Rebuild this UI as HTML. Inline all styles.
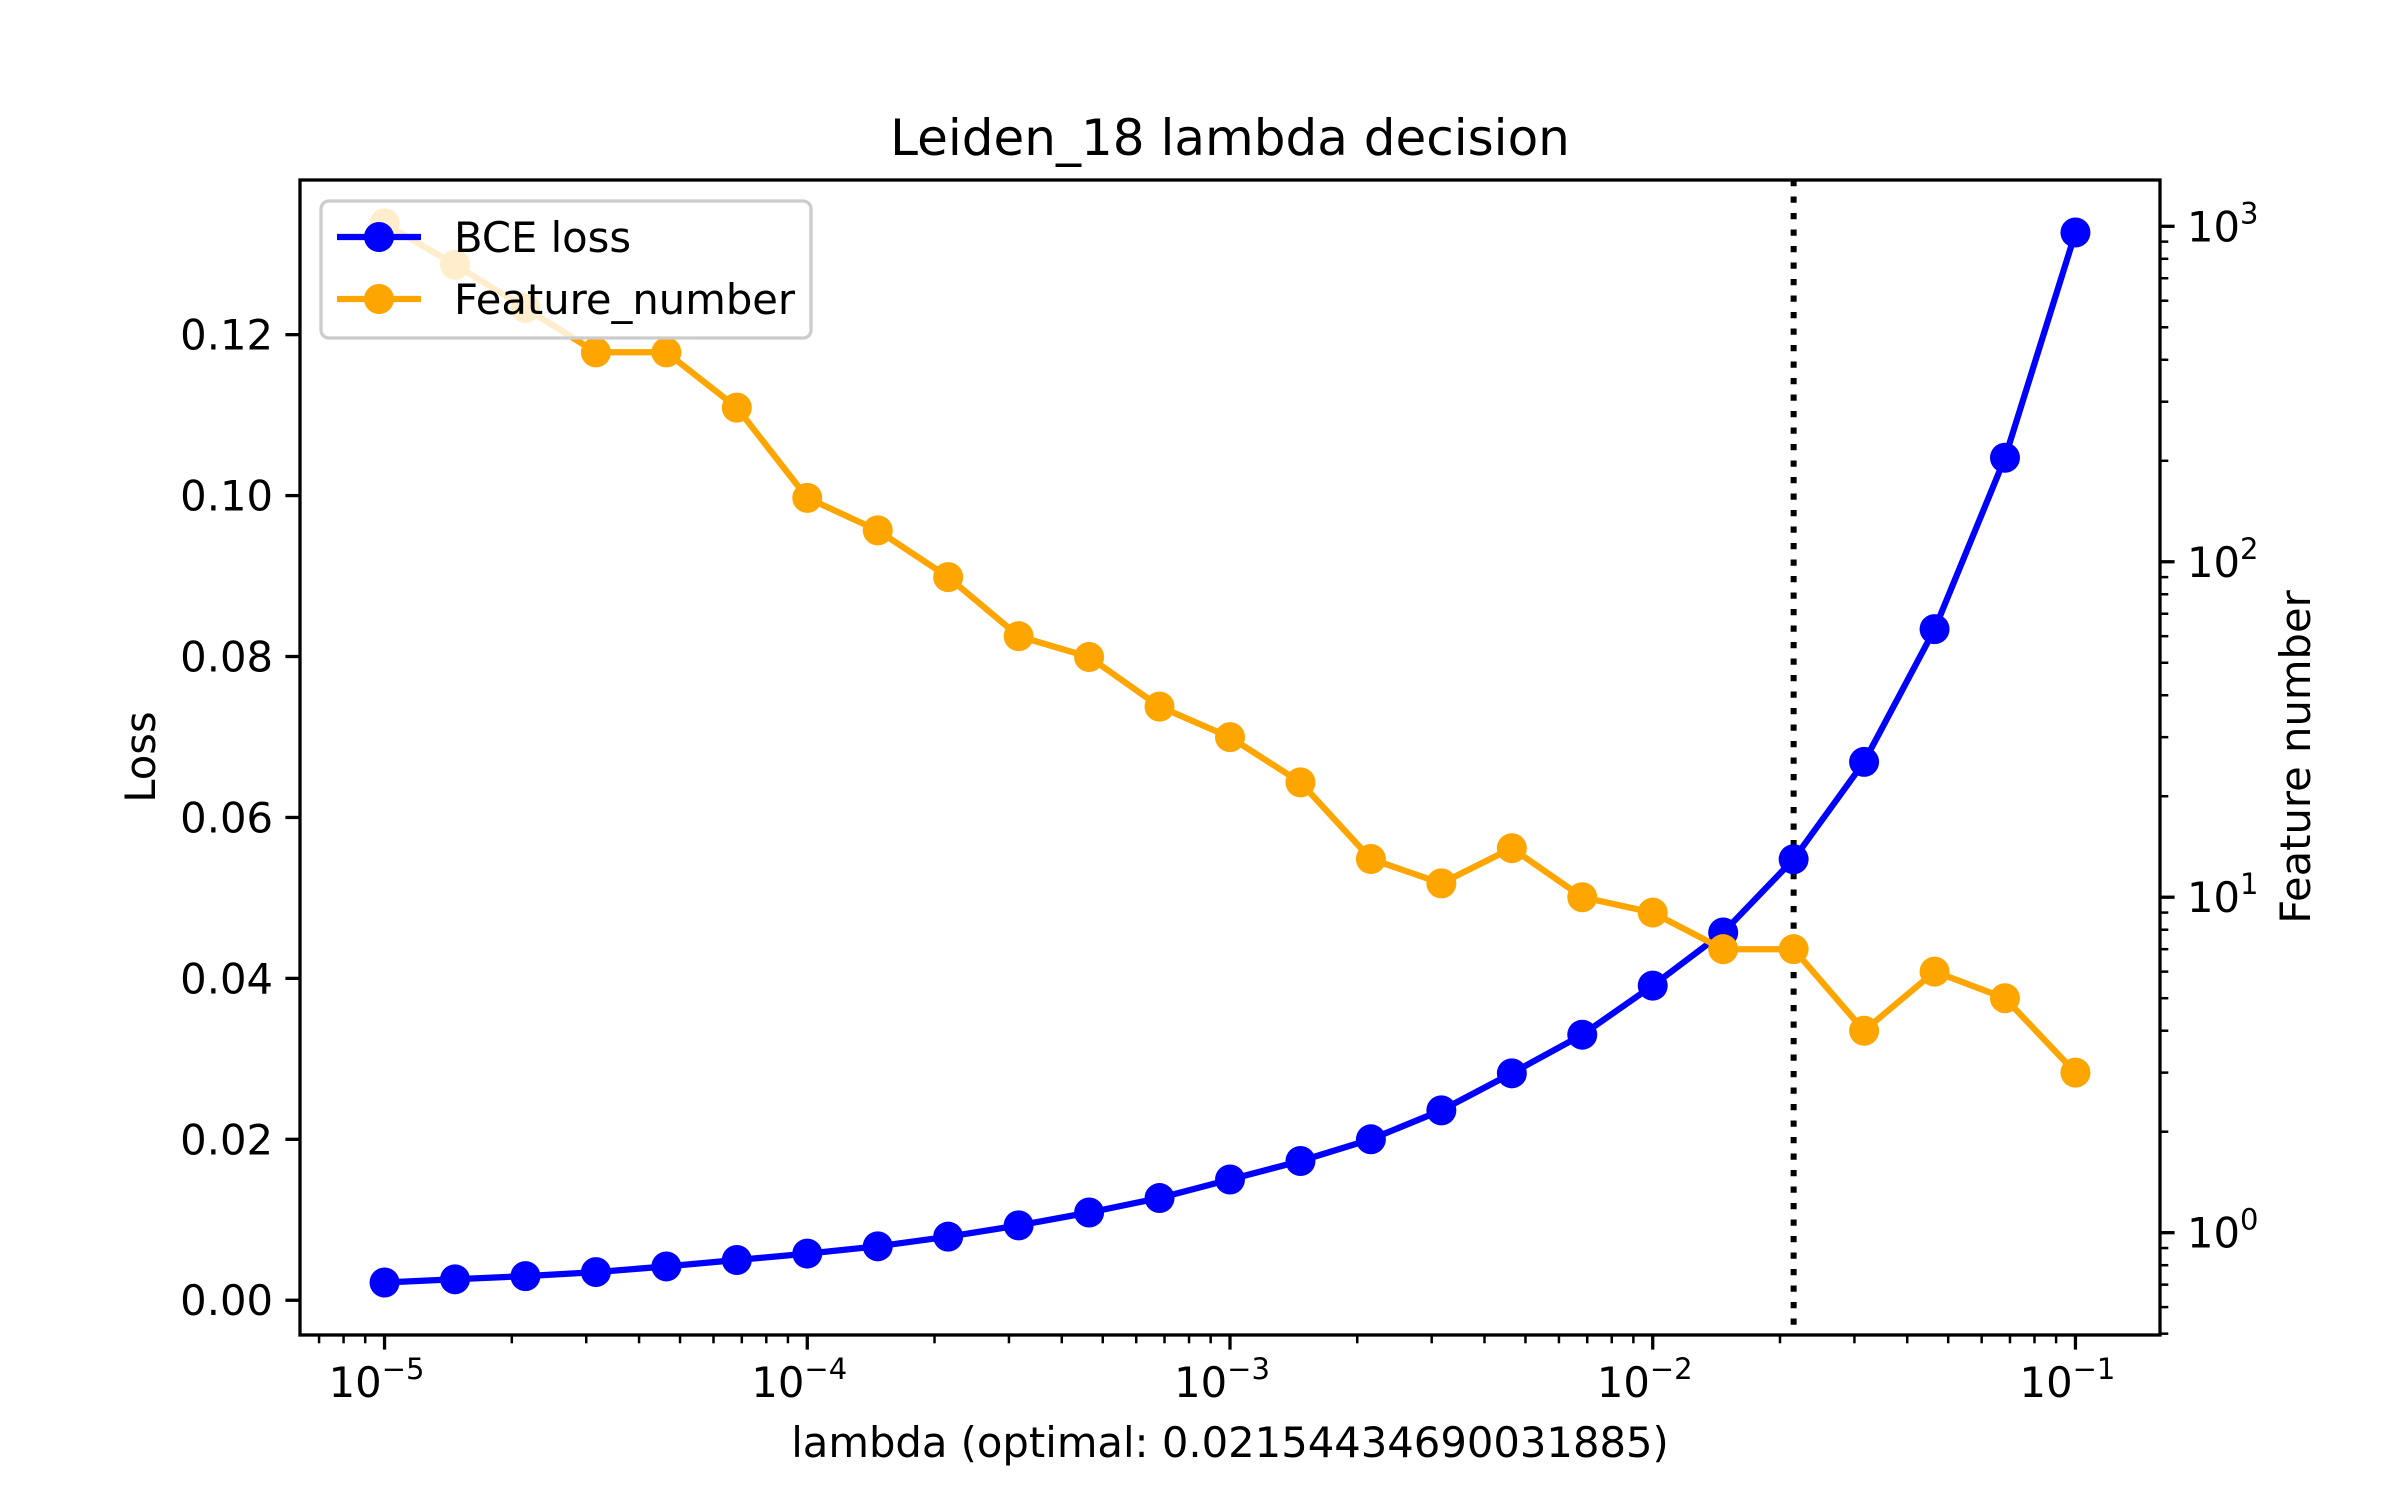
<!DOCTYPE html>
<html><head><meta charset="utf-8"><style>
html,body{margin:0;padding:0;background:#fff;}
svg{display:block;font-family:"DejaVu Sans","Liberation Sans",sans-serif;}
</style></head><body>
<svg id="chart" width="2400" height="1500" viewBox="0 0 2400 1500" xmlns="http://www.w3.org/2000/svg">
<rect x="0" y="0" width="2400" height="1500" fill="#fff"/>
<text x="1230" y="155" font-size="50" text-anchor="middle">Leiden_18 lambda decision</text>
<text x="1230" y="1457" font-size="41.7" text-anchor="middle">lambda (optimal: 0.02154434690031885)</text>
<text x="0" y="0" font-size="41.7" text-anchor="middle" transform="translate(155,757) rotate(-90)">Loss</text>
<text x="0" y="0" font-size="41.7" text-anchor="middle" transform="translate(2310,757) rotate(-90)">Feature number</text>
<g id="plot"></g>
</svg>
<script>
const lambdaExp = [-5,-4.8333,-4.6667,-4.5,-4.3333,-4.1667,-4,-3.8333,-3.6667,-3.5,-3.3333,-3.1667,-3,-2.8333,-2.6667,-2.5,-2.3333,-2.1667,-2,-1.8333,-1.6667,-1.5,-1.3333,-1.1667,-1];
const bceLoss = [0.0022,0.0026,0.0030,0.0035,0.0042,0.0050,0.0058,0.0067,0.0079,0.0093,0.0109,0.0127,0.0150,0.0173,0.0200,0.0236,0.0282,0.0330,0.0391,0.0457,0.0548,0.0669,0.0834,0.1047,0.1327];
const featureNumber = [1020,768,571,421,421,288,155,124,90,60,52,37,30,22,13,11,14,10,9,7,7,4,6,5,3];
const optimalLambda = 0.021544346900318846;
const lossTicks = [0.00,0.02,0.04,0.06,0.08,0.10,0.12];
const lossTickLabels = ["0.00","0.02","0.04","0.06","0.08","0.10","0.12"];
const xTickExps = [-5,-4,-3,-2,-1];
const rightTickExps = [0,1,2,3];

const L=300,R=2160,T=180,B=1335;
const xMin=-5.2,xMax=-0.8;
const yMin=-0.00432,yMax=0.13922;
const rMin=-0.305,rMax=3.138;
const NS="http://www.w3.org/2000/svg";
const g=document.getElementById('plot');
const sx=e=>L+(e-xMin)/(xMax-xMin)*(R-L);
const sy=v=>B-(v-yMin)/(yMax-yMin)*(B-T);
const sr=v=>B-(Math.log10(v)-rMin)/(rMax-rMin)*(B-T);
function mk(tag,attrs,parent){const e=document.createElementNS(NS,tag);for(const k in attrs)e.setAttribute(k,attrs[k]);(parent||g).appendChild(e);return e;}

let vl=mk('line',{x1:sx(Math.log10(optimalLambda)),x2:sx(Math.log10(optimalLambda)),y1:T,y2:B,stroke:'#000','stroke-width':6,'stroke-dasharray':'6.2,10.3'});



function series(vals,yf,color,name){
  const pts=vals.map((v,i)=>sx(lambdaExp[i]).toFixed(1)+','+yf(v).toFixed(1)).join(' ');
  const pl=mk('polyline',{points:pts,fill:'none',stroke:color,'stroke-width':6.25,'stroke-linejoin':'round'});
  
  
  vals.forEach((v,i)=>{
    const c=mk('circle',{cx:sx(lambdaExp[i]),cy:yf(v),r:15,fill:color});
    
    
  });
}
series(bceLoss,sy,'#0000ff','bce-loss');
series(featureNumber,sr,'#ffa500','feature-number');

const sp=mk('rect',{x:L,y:T,width:R-L,height:B-T,fill:'none',stroke:'#000','stroke-width':3.3});



for(let d=-6;d<=-1;d++){
  for(let m=1;m<10;m++){
    const e=d+Math.log10(m);
    if(e<xMin||e>xMax)continue;
    const x=sx(e);
    const len=m===1?14.6:8.3;
    const t=mk('line',{x1:x,x2:x,y1:B,y2:B+len,stroke:'#000','stroke-width':m===1?3.3:2.5});
    
    
  }
}
xTickExps.forEach(e=>{
  const t=mk('text',{x:sx(e)-8,y:B+62,'font-size':41.7,'text-anchor':'middle'});
  
  
  t.appendChild(document.createTextNode('10'));
  const s=mk('tspan',{dy:-18,'font-size':29},t);
  s.textContent='\u2212'+Math.abs(e);
});
lossTicks.forEach((v,i)=>{
  const y=sy(v);
  const t=mk('line',{x1:L-14.6,x2:L,y1:y,y2:y,stroke:'#000','stroke-width':3.3});
  
  
  const tx=mk('text',{x:L-27,y:y+15,'font-size':41.7,'text-anchor':'end'});
  
  
  tx.textContent=lossTickLabels[i];
});
for(let d=-1;d<=3;d++){
  for(let m=1;m<10;m++){
    const v=Math.pow(10,d)*m;const lv=Math.log10(v);
    if(lv<rMin||lv>rMax)continue;
    const y=sr(v);const len=m===1?14.6:8.3;
    const t=mk('line',{x1:R,x2:R+len,y1:y,y2:y,stroke:'#000','stroke-width':m===1?3.3:2.5});
    
    
  }
}
rightTickExps.forEach(e=>{
  const y=sr(Math.pow(10,e));
  const t=mk('text',{x:R+27,y:y+15,'font-size':41.7});
  
  
  t.appendChild(document.createTextNode('10'));
  const s=mk('tspan',{dy:-18,'font-size':29},t);
  s.textContent=String(e);
});

const lg=mk('g',{});


const lb=mk('rect',{x:321,y:201,width:490,height:137,rx:8,fill:'#fff','fill-opacity':0.8,stroke:'#cccccc','stroke-width':3.3},lg);


[['BCE loss','#0000ff',237],['Feature_number','#ffa500',299]].forEach(([lab,col,y])=>{
  const e=mk('g',{},lg);
  
  
  mk('line',{x1:337,x2:421,y1:y,y2:y,stroke:col,'stroke-width':6.25},e);
  mk('circle',{cx:379,cy:y,r:15,fill:col},e);
  const t=mk('text',{x:454,y:y+15,'font-size':41.7},e);
  t.textContent=lab;
});
</script>
</body></html>
